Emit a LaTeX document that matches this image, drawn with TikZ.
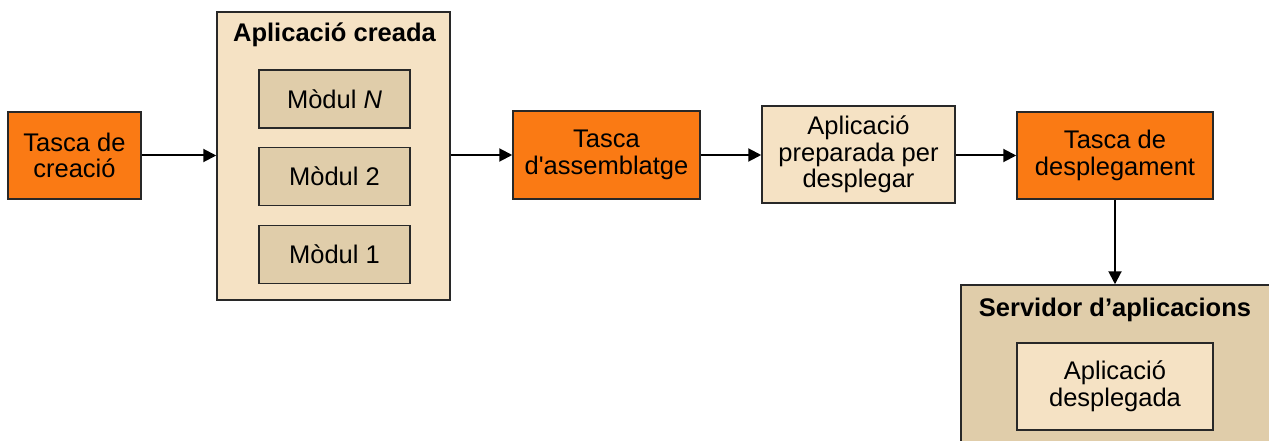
\documentclass[tikz,border=0pt]{standalone}
\usepackage{fontspec}
\setmainfont{Liberation Sans}[Ligatures=TeXOff]
\usetikzlibrary{arrows.meta}
\definecolor{taskorange}{RGB}{250,122,20}
\definecolor{lightbeige}{RGB}{245,226,196}
\definecolor{darkbeige}{RGB}{224,205,170}
\definecolor{edgegray}{RGB}{40,40,40}
\begin{document}
\begin{tikzpicture}[x=1pt,y=-1pt,
  box/.style={draw=edgegray,line width=1.5pt,rectangle,inner sep=0pt,align=center,
    font=\fontsize{25.5}{26.5}\selectfont},
  task/.style={box,fill=taskorange},
  artefact/.style={box,fill=lightbeige},
  module/.style={box,fill=darkbeige,minimum width=151pt,minimum height=58pt},
  title/.style={font=\bfseries\fontsize{25.5}{26.5}\selectfont,inner sep=0pt},
  flow/.style={line width=2pt,-{Triangle[length=13pt,width=13pt]}}]
\useasboundingbox (0,0) rectangle (1269,441);

% first task
\node[task,minimum width=133pt,minimum height=87pt] (creacio) at (74.5,155.5) {Tasca de\\creació};

% built application with its modules
\node[artefact,minimum width=233pt,minimum height=288pt] (creada) at (333.5,156) {};
\node[title] (creadatitle) at (334.5,35) {Aplicació creada};
\node[module] (modN) at (334.5,99) {Mòdul \textit{N}};
\node[module] (mod2) at (334.5,176.5) {Mòdul 2};
\node[module] (mod1) at (334.5,254.5) {Mòdul 1};

% assembly and deployment chain
\node[task,minimum width=187pt,minimum height=88pt] (assemblatge) at (606.5,155) {Tasca\\d'assemblatge};
\node[artefact,minimum width=193pt,minimum height=97pt] (preparada) at (858.5,154.5) {Aplicació\\preparada per\\desplegar};
\node[task,minimum width=196pt,minimum height=87pt] (desplegament) at (1115,155.5) {Tasca de\\desplegament};

% application server
\node[box,fill=darkbeige,minimum width=319pt,minimum height=165pt] (servidor) at (1120.5,367.5) {};
\node[title] (servidortitle) at (1115,310) {Servidor d’aplicacions};
\node[artefact,minimum width=196pt,minimum height=87pt] (desplegada) at (1115,386.5) {Aplicació\\desplegada};

% connectors
\draw[flow] (creacio.east) -- (creacio.east -| creada.west);
\draw[flow] (creada.east |- assemblatge.west) -- (assemblatge.west);
\draw[flow] (assemblatge.east) -- (assemblatge.east -| preparada.west);
\draw[flow] (preparada.east |- desplegament.west) -- (desplegament.west);
\draw[flow] (desplegament.south) -- (desplegament.south |- servidor.north);
\end{tikzpicture}
\end{document}
